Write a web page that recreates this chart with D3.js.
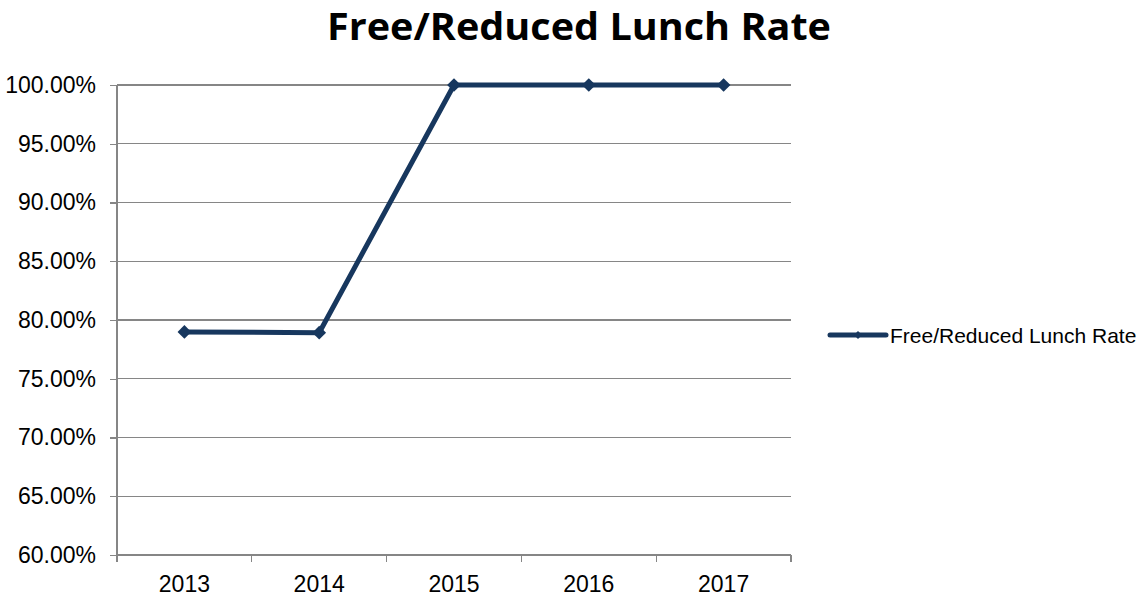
<!DOCTYPE html>
<html lang="en">
<head>
    <meta charset="UTF-8">
    <title>Free/Reduced Lunch Rate</title>
    <script src="https://d3js.org/d3.v7.min.js"></script>
    <style>
        body { margin: 0; background: #fff; }
        svg { display: block; }
        .axis path, .axis line { stroke: #868686; stroke-width: 1.3; shape-rendering: crispEdges; }
        .axis text { font-family: "Liberation Sans", Arial, sans-serif; font-size: 23px; fill: #000; }
        .grid line { stroke: #868686; stroke-width: 1.3; shape-rendering: crispEdges; }
    </style>
</head>
<body>
    <svg width="1146" height="596"></svg>

    <script>
        // Data
        var years = ["2013", "2014", "2015", "2016", "2017"];
        var rates = [0.7898, 0.7892, 1.0, 1.0, 1.0];
        var yTicks = [0.60, 0.65, 0.70, 0.75, 0.80, 0.85, 0.90, 0.95, 1.00];
        var seriesName = "Free/Reduced Lunch Rate";

        var svg = d3.select("svg"),
            margin = {top: 85, right: 355, bottom: 41, left: 117},
            width = +svg.attr("width") - margin.left - margin.right,
            height = +svg.attr("height") - margin.top - margin.bottom,
            g = svg.append("g").attr("transform", "translate(" + margin.left + "," + margin.top + ")");

        var lineColor = "#17375e";

        // Title
        svg.append("text")
            .attr("x", 579)
            .attr("y", 40)
            .attr("text-anchor", "middle")
            .style("font-family", "'Open Sans', 'Noto Sans', sans-serif")
            .style("font-weight", "bold")
            .style("font-size", "37px")
            .attr("textLength", 504)
            .attr("lengthAdjust", "spacingAndGlyphs")
            .text("Free/Reduced Lunch Rate");

        // Scales
        var xScale = d3.scaleBand().domain(years).range([0, width]);
        var yScale = d3.scaleLinear().domain([0.6, 1.0]).range([height, 0]);

        // Gridlines
        g.append("g").attr("class", "grid")
            .selectAll("line")
            .data(yTicks.slice(1))
            .enter().append("line")
            .attr("x1", 0).attr("x2", width)
            .attr("y1", function(d) { return yScale(d); })
            .attr("y2", function(d) { return yScale(d); });

        // Axes
        g.append("g").attr("class", "axis")
            .call(d3.axisLeft(yScale).tickValues(yTicks).tickFormat(d3.format(".2%")).tickSize(7).tickPadding(14))
            .select(".domain").attr("d", "M0," + height + "V0");

        var xAxis = g.append("g").attr("class", "axis")
            .attr("transform", "translate(0," + height + ")")
            .call(d3.axisBottom(xScale).tickSize(0).tickPadding(21));
        xAxis.select(".domain").attr("d", "M0,0H" + width);
        // category boundary ticks
        xAxis.selectAll(".bound")
            .data(d3.range(years.length + 1))
            .enter().append("line")
            .attr("class", "bound")
            .attr("x1", function(i) { return i * xScale.step(); })
            .attr("x2", function(i) { return i * xScale.step(); })
            .attr("y1", 0).attr("y2", 7);

        // Line
        var line = d3.line()
            .x(function(d, i) { return xScale(years[i]) + xScale.bandwidth() / 2; })
            .y(function(d) { return yScale(d); });

        g.append("path")
            .datum(rates)
            .attr("fill", "none")
            .attr("stroke", lineColor)
            .attr("stroke-width", 5)
            .attr("stroke-linejoin", "round")
            .attr("d", line);

        // Markers
        var diamond = d3.symbol().type(d3.symbolDiamond2).size(120);
        g.selectAll(".marker")
            .data(rates)
            .enter().append("path")
            .attr("class", "marker")
            .attr("fill", lineColor)
            .attr("d", diamond)
            .attr("transform", function(d, i) {
                return "translate(" + (xScale(years[i]) + xScale.bandwidth() / 2) + "," + yScale(d) + ")";
            });

        // Legend
        var legend = svg.append("g").attr("transform", "translate(830,335)");
        legend.append("line")
            .attr("x1", 0).attr("x2", 56)
            .attr("stroke", lineColor).attr("stroke-width", 5)
            .attr("stroke-linecap", "round");
        legend.append("path")
            .attr("fill", lineColor)
            .attr("d", d3.symbol().type(d3.symbolDiamond2).size(40))
            .attr("transform", "translate(28,0)");
        legend.append("text")
            .attr("x", 60).attr("y", 8)
            .style("font-family", "'Liberation Sans', Arial, sans-serif")
            .style("font-size", "21px")
            .text(seriesName);
    </script>
</body>
</html>
